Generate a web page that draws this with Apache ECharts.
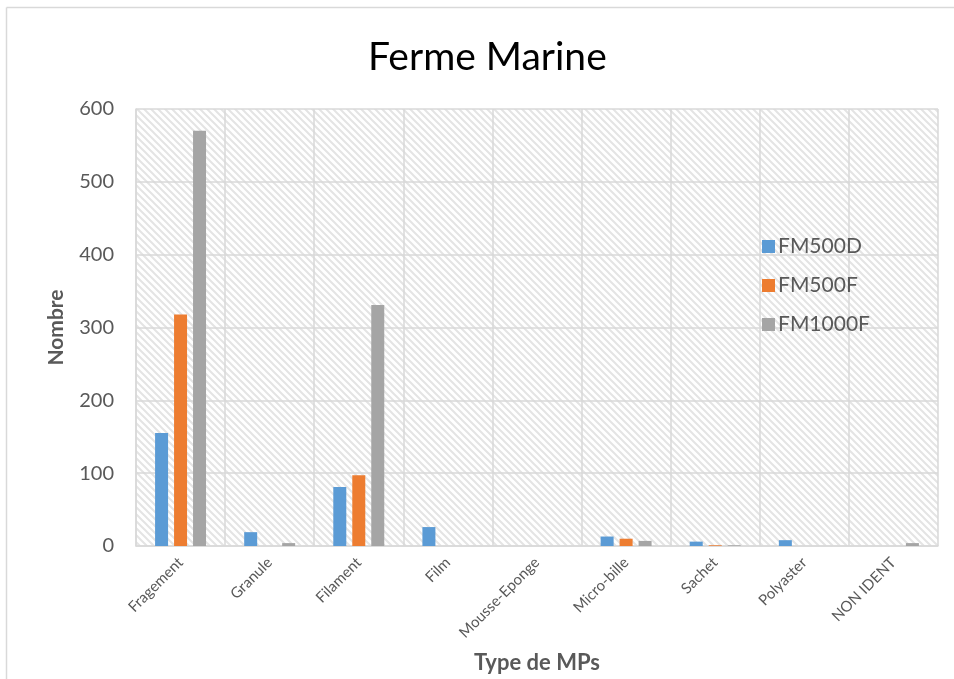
<!DOCTYPE html>
<html>
<head>
<meta charset="utf-8">
<script src="https://cdn.jsdelivr.net/npm/echarts@6/dist/echarts.min.js"></script>
<style>
  html, body { margin: 0; padding: 0; background: #ffffff; }
  #chart { width: 954px; height: 679px; }
</style>
</head>
<body>
<div id="chart"></div>
<script>
// Microplastic counts by type, per sampling station
const categories = ['Fragement', 'Granule', 'Filament', 'Film', 'Mousse-Eponge', 'Micro-bille', 'Sachet', 'Polyaster', 'NON IDENT'];
const seriesNames = ['FM500D', 'FM500F', 'FM1000F'];
const fm500d = [155, 19, 81, 26, 0, 13, 6, 8, 0];
const fm500f = [318, 0, 97, 0, 0, 10, 1, 0, 0];
const fm1000f = [570, 4, 331, 0, 0, 7, 1, 0, 4];
const yTicks = [0, 100, 200, 300, 400, 500, 600];
const colors = ['#5b9bd5', '#ed7d31', '#a5a5a5'];

// Light diagonal hatching for the plot background
function hatchPattern() {
  const size = 7;
  const c = document.createElement('canvas');
  c.width = size; c.height = size;
  const ctx = c.getContext('2d');
  ctx.fillStyle = '#ffffff';
  ctx.fillRect(0, 0, size, size);
  ctx.strokeStyle = '#e4e4e4';
  ctx.lineWidth = 2;
  ctx.beginPath();
  ctx.moveTo(-2, -2); ctx.lineTo(size + 2, size + 2);
  ctx.moveTo(-2 - size, -2); ctx.lineTo(2, size + 2);
  ctx.moveTo(size - 2, -2); ctx.lineTo(2 * size + 2, size + 2);
  ctx.stroke();
  return { image: c, repeat: 'repeat' };
}

const labelColor = '#595959';
const gridColor = '#d9d9d9';
const font = 'Lato, "Open Sans", sans-serif';

const chart = echarts.init(document.getElementById('chart'), null, { renderer: 'canvas' });
const data = [fm500d, fm500f, fm1000f];

chart.setOption({
  animation: false,
  backgroundColor: '#ffffff',
  title: {
    text: 'Ferme Marine',
    left: 363,
    top: 33,
    textStyle: { fontFamily: font, fontSize: 39, fontWeight: 'normal', color: '#000000' }
  },
  legend: {
    orient: 'vertical',
    left: 757,
    top: 231,
    itemWidth: 13,
    itemHeight: 13,
    itemGap: 18,
    icon: 'rect',
    textStyle: { fontFamily: font, fontSize: 21, color: labelColor, padding: [0, 0, 0, -2] },
    data: seriesNames
  },
  grid: {
    left: 136, right: 16, top: 109, bottom: 131,
    show: true,
    backgroundColor: hatchPattern(),
    borderWidth: 0
  },
  xAxis: {
    type: 'category',
    data: categories,
    name: 'Type de MPs',
    nameLocation: 'middle',
    nameGap: 106,
    nameTextStyle: { fontFamily: font, fontSize: 22, fontWeight: 'bold', color: labelColor },
    axisLine: { show: true, lineStyle: { color: gridColor, width: 1.5 } },
    axisTick: { show: false },
    splitLine: { show: true, lineStyle: { color: gridColor, width: 1.5 } },
    axisLabel: {
      rotate: 45,
      margin: 14,
      interval: 0,
      fontFamily: font,
      fontSize: 15,
      color: labelColor
    }
  },
  yAxis: {
    type: 'value',
    min: yTicks[0],
    max: yTicks[yTicks.length - 1],
    interval: 100,
    name: 'Nombre',
    nameLocation: 'middle',
    nameGap: 69,
    nameRotate: 90,
    nameTextStyle: { fontFamily: font, fontSize: 21, fontWeight: 'bold', color: labelColor },
    axisLine: { show: true, lineStyle: { color: gridColor, width: 1.5 } },
    axisTick: { show: false },
    splitLine: { show: true, lineStyle: { color: gridColor, width: 1.5 } },
    axisLabel: { fontFamily: font, fontSize: 20, color: labelColor, margin: 22 }
  },
  series: seriesNames.map((name, i) => ({
    name: name,
    type: 'bar',
    data: data[i],
    barWidth: 13,
    barGap: '46%',
    itemStyle: { color: colors[i] }
  })),
  graphic: [
    { type: 'line', shape: { x1: 6.5, y1: 7.5, x2: 954, y2: 7.5 }, style: { stroke: gridColor, lineWidth: 1.5 }, silent: true },
    { type: 'line', shape: { x1: 6.5, y1: 7.5, x2: 6.5, y2: 679 }, style: { stroke: gridColor, lineWidth: 1.5 }, silent: true }
  ]
});
</script>
</body>
</html>
